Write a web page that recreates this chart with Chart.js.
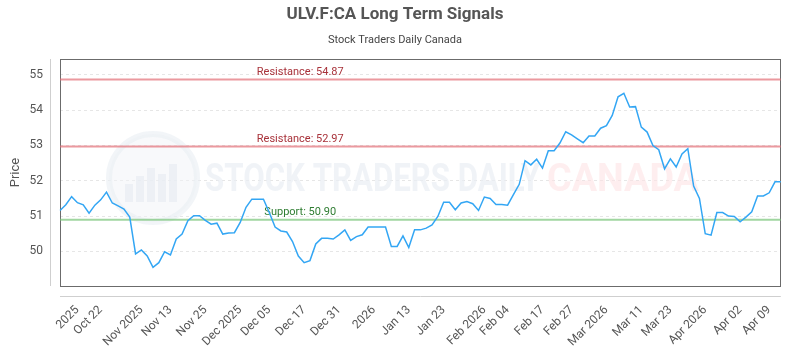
<!DOCTYPE html>
<html><head><meta charset="utf-8">
<script src="https://cdn.jsdelivr.net/npm/chart.js@4.4.1/dist/chart.umd.min.js"></script>
<style>html,body{margin:0;padding:0;background:#fff}#wrap{width:800px;height:350px}</style>
</head><body><div id="wrap"><canvas id="c" width="800" height="350"></canvas></div>
<script>
const prices = [
 51.16,51.32,51.55,51.38,51.32,51.08,51.31,51.46,51.68,51.37,
 51.29,51.20,50.97,49.93,50.04,49.87,49.55,49.68,49.99,49.90,
 50.35,50.49,50.87,51.01,51.01,50.88,50.77,50.80,50.49,50.52,
 50.53,50.82,51.25,51.48,51.48,51.48,51.10,50.69,50.58,50.55,
 50.28,49.87,49.68,49.74,50.21,50.37,50.37,50.35,50.47,50.61,
 50.31,50.42,50.47,50.69,50.69,50.69,50.69,50.14,50.14,50.44,
 50.11,50.61,50.61,50.66,50.75,50.99,51.39,51.39,51.18,51.37,
 51.41,51.35,51.16,51.54,51.50,51.33,51.33,51.31,51.61,51.90,
 52.57,52.45,52.61,52.36,52.85,52.85,53.07,53.39,53.30,53.19,
 53.08,53.27,53.27,53.49,53.56,53.85,54.38,54.48,54.09,54.10,
 53.52,53.38,53.00,52.88,52.34,52.62,52.39,52.76,52.91,51.85,
 51.50,50.50,50.46,51.10,51.10,51.00,50.99,50.84,50.97,51.12,
 51.57,51.57,51.66,51.97,51.97
];
const tickLabels = ["2025","Oct 22","Nov 2025","Nov 13","Nov 25","Dec 2025","Dec 05","Dec 17","Dec 31","2026","Jan 13","Jan 23","Feb 2026","Feb 04","Feb 17","Feb 27","Mar 2026","Mar 11","Mar 23","Apr 2026","Apr 02","Apr 09"];
const tickIndex = [3,7,14,19,25,31,36,42,48,54,60,66,73,77,83,88,94,100,105,111,117,122];
const levelValues = [54.87, 52.97, 50.90];
const levelKinds = ["Resistance", "Resistance", "Support"];
const titleText = "ULV.F:CA Long Term Signals";
const subtitleText = "Stock Traders Daily Canada";
const yTitleText = "Price";
const watermarkMain = "STOCK TRADERS DAILY";
const watermarkSub = "CANADA";
const yMin = 49.02, yMax = 55.45;

const FONT = "Roboto, 'Open Sans', sans-serif";

const decor = {
  id: 'decor',
  beforeDatasetsDraw(chart) {
    const {ctx, chartArea: a, scales: {y}} = chart;
    ctx.save();
    // watermark logo
    const cx = a.left + 93, cy = 178, r = 44;
    ctx.beginPath(); ctx.arc(cx, cy, r, 0, Math.PI * 2);
    ctx.fillStyle = 'rgba(242,244,248,0.5)'; ctx.fill();
    ctx.lineWidth = 6; ctx.strokeStyle = 'rgba(234,238,244,0.6)'; ctx.stroke();
    ctx.fillStyle = 'rgba(232,236,242,0.65)';
    const bars = [[-28, 18], [-17, 26], [-6, 34], [5, 28], [16, 38]];
    bars.forEach(([dx, h]) => ctx.fillRect(cx + dx, cy + 24 - h, 8, h));
    // watermark text
    ctx.font = "bold 38px " + FONT;
    ctx.textBaseline = 'alphabetic';
    ctx.textAlign = 'left';
    const w1 = ctx.measureText(watermarkMain).width;
    ctx.save(); ctx.translate(a.left + 145, 191); ctx.scale(335 / w1, 1);
    ctx.fillStyle = 'rgba(234,238,244,0.7)'; ctx.fillText(watermarkMain, 0, 0); ctx.restore();
    const w2 = ctx.measureText(watermarkSub).width;
    ctx.save(); ctx.translate(a.left + 487, 191); ctx.scale(152 / w2, 1);
    ctx.fillStyle = 'rgba(253,226,229,0.6)'; ctx.fillText(watermarkSub, 0, 0); ctx.restore();

    // box
    ctx.lineWidth = 1;
    ctx.strokeStyle = '#6b6b6b';
    ctx.strokeRect(Math.round(a.left) + 0.5, Math.round(a.top) + 0.5, Math.round(a.right - a.left) - 1, Math.round(a.bottom - a.top));
    // offset axis lines
    ctx.strokeStyle = '#cfcfcf';
    ctx.beginPath();
    ctx.moveTo(a.left - 9.5, a.top); ctx.lineTo(a.left - 9.5, a.bottom);
    ctx.moveTo(a.left, a.bottom + 10.5); ctx.lineTo(a.right, a.bottom + 10.5);
    ctx.stroke();

    // levels
    levelValues.forEach((v, i) => {
      const py = y.getPixelForValue(v);
      const res = levelKinds[i] === 'Resistance';
      ctx.strokeStyle = res ? 'rgba(226,110,118,0.7)' : 'rgba(120,196,120,0.7)';
      ctx.lineWidth = 2;
      ctx.beginPath(); ctx.moveTo(a.left, py); ctx.lineTo(a.right, py); ctx.stroke();
      ctx.font = "11px " + FONT;
      ctx.textAlign = 'center';
      ctx.textBaseline = 'bottom';
      ctx.fillStyle = res ? '#a8323a' : '#2f7d32';
      ctx.fillText(levelKinds[i] + ": " + v.toFixed(2), a.left + a.width / 3, py - 2);
    });
    ctx.restore();
  }
};

new Chart(document.getElementById('c'), {
  type: 'line',
  data: {
    labels: prices.map((_, i) => i),
    datasets: [{
      data: prices,
      borderColor: '#33a6f4',
      borderWidth: 1.5,
      pointRadius: 0,
      tension: 0,
      fill: false
    }]
  },
  options: {
    responsive: false,
    animation: false,
    devicePixelRatio: 1,
    layout: { padding: { left: 0, right: 10, top: 0, bottom: 0 } },
    plugins: {
      legend: { display: false },
      tooltip: { enabled: false },
      title: { display: true, text: titleText, color: '#555', font: { family: FONT, size: 17, weight: 'bold' }, padding: { top: 5, bottom: 8 } },
      subtitle: { display: true, text: subtitleText, color: '#444', font: { family: FONT, size: 11 }, padding: { top: 0, bottom: 12.4 } }
    },
    scales: {
      x: {
        type: 'category',
        grid: { display: false },
        border: { display: false },
        ticks: {
          autoSkip: false, maxRotation: 45, minRotation: 45, padding: 9,
          color: '#555', font: { family: FONT, size: 12 },
          callback: function (value, index) { const k = tickIndex.indexOf(index); return k >= 0 ? tickLabels[k] : ''; }
        },
        afterFit(scale) { scale.height = 64; }
      },
      y: {
        min: yMin, max: yMax,
        grid: { color: '#e6e6e6', drawTicks: false },
        border: { display: false, dash: [3, 3] },
        ticks: { stepSize: 1, includeBounds: false, padding: 17, color: '#555', font: { family: FONT, size: 12 } },
        title: { display: true, text: yTitleText, color: '#555', font: { family: FONT, size: 13 }, padding: { top: 8, bottom: 0 } },
        afterFit(scale) { scale.width = 60; }
      }
    }
  },
  plugins: [decor]
});
</script></body></html>
